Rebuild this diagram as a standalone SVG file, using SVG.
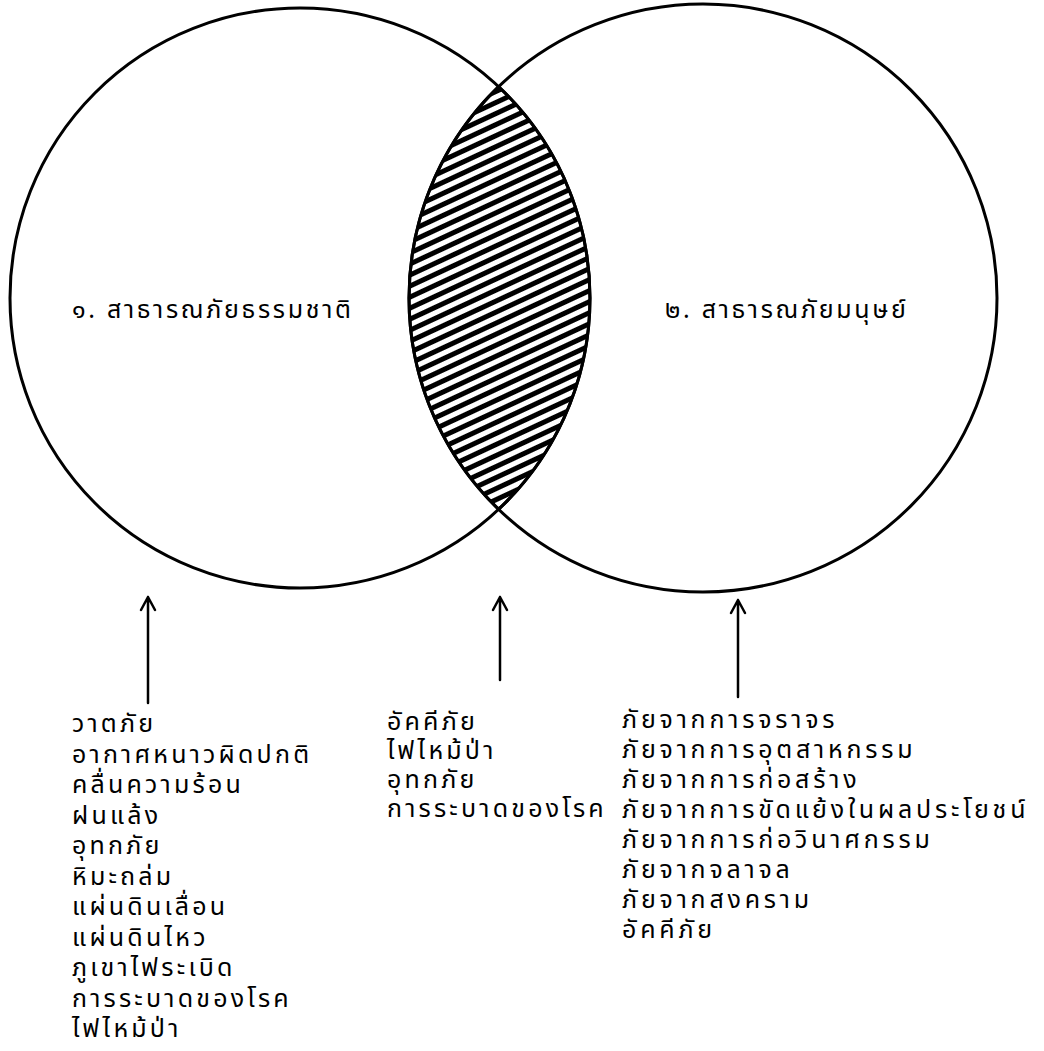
<svg xmlns="http://www.w3.org/2000/svg" width="1044" height="1051" viewBox="0 0 1044 1051">
<defs>
<pattern id="hatch" patternUnits="userSpaceOnUse" width="10" height="10" patternTransform="rotate(-25)">
<rect width="10" height="10" fill="#fff"/>
<rect width="10" height="5" fill="#000"/>
</pattern>
<style>
.c{fill:none;stroke:#000;stroke-width:3}
.a{fill:none;stroke:#000;stroke-width:2.5;stroke-linecap:round;stroke-linejoin:round}
text{font-family:"Noto Sans Thai","Noto Sans","DejaVu Sans",sans-serif;font-size:25px;fill:#000;letter-spacing:3.2px}
.lbl{letter-spacing:2.7px}
.r{letter-spacing:3.8px}
</style>
</defs>
<g id="lens">
<path d="M498.6,86.7 A294,294 0 0 0 498.6,509.3 A290,290 0 0 0 498.6,86.7 Z" fill="url(#hatch)" stroke="#000" stroke-width="3"/>
</g>
<g id="natural">
<circle class="c" cx="300" cy="298" r="290"/>
<text class="lbl" x="72" y="318">๑. สาธารณภัยธรรมชาติ</text>
</g>
<g id="human">
<circle class="c" cx="703" cy="298" r="294"/>
<text class="lbl" x="665" y="318">๒. สาธารณภัยมนุษย์</text>
</g>
<g id="connectors">
<path class="a" d="M148,703 V597 M141,610 L148,597 L155,610"/>
<path class="a" d="M500,680 V597 M493,610 L500,597 L507,610"/>
<path class="a" d="M738,697 V600 M731,613 L738,600 L745,613"/>
</g>
<g id="list-natural">
<text x="72" y="732">วาตภัย</text>
<text x="72" y="762.5">อากาศหนาวผิดปกติ</text>
<text x="72" y="793">คลื่นความร้อน</text>
<text x="72" y="823.5">ฝนแล้ง</text>
<text x="72" y="854">อุทกภัย</text>
<text x="72" y="884.5">หิมะถล่ม</text>
<text x="72" y="915">แผ่นดินเลื่อน</text>
<text x="72" y="945.5">แผ่นดินไหว</text>
<text x="72" y="976">ภูเขาไฟระเบิด</text>
<text x="72" y="1006.5">การระบาดของโรค</text>
<text x="72" y="1037">ไฟไหม้ป่า</text>
</g>
<g id="list-both">
<text x="387" y="730">อัคคีภัย</text>
<text x="387" y="759">ไฟไหม้ป่า</text>
<text x="387" y="788">อุทกภัย</text>
<text x="387" y="817">การระบาดของโรค</text>
</g>
<g id="list-human">
<text class="r" x="622" y="728">ภัยจากการจราจร</text>
<text class="r" x="622" y="758">ภัยจากการอุตสาหกรรม</text>
<text class="r" x="622" y="788">ภัยจากการก่อสร้าง</text>
<text class="r" x="622" y="818">ภัยจากการขัดแย้งในผลประโยชน์</text>
<text class="r" x="622" y="848">ภัยจากการก่อวินาศกรรม</text>
<text class="r" x="622" y="878">ภัยจากจลาจล</text>
<text class="r" x="622" y="908">ภัยจากสงคราม</text>
<text class="r" x="622" y="938">อัคคีภัย</text>
</g>
</svg>
